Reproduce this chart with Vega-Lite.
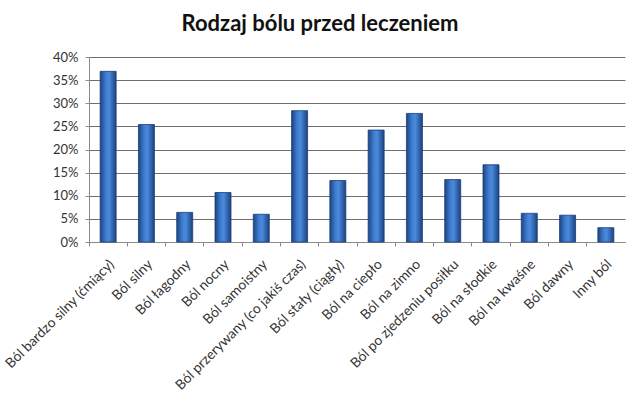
{
  "$schema": "https://vega.github.io/schema/vega-lite/v6.json",
  "width": 536,
  "height": 185,
  "autosize": {"type": "none"},
  "padding": {"left": 89, "top": 57, "right": 15, "bottom": 154},
  "background": "white",
  "config": {
    "font": "Lato",
    "view": {"strokeWidth": 0},
    "axis": {"labelFont": "Lato", "labelColor": "#333333", "domainColor": "#8a8a8a", "tickColor": "#8a8a8a"}
  },
  "title": {
    "text": "Rodzaj bólu przed leczeniem",
    "fontSize": 22,
    "fontWeight": "bold",
    "color": "#111111",
    "anchor": "middle",
    "dx": -37,
    "offset": 15
  },
  "data": {
    "values": [
      {"kategoria": "Ból bardzo silny (ćmiący)", "procent": 36.9},
      {"kategoria": "Ból silny", "procent": 25.4},
      {"kategoria": "Ból łagodny", "procent": 6.4},
      {"kategoria": "Ból nocny", "procent": 10.7},
      {"kategoria": "Ból samoistny", "procent": 6.0},
      {"kategoria": "Ból przerywany (co jakiś czas)", "procent": 28.4},
      {"kategoria": "Ból stały (ciągły)", "procent": 13.3},
      {"kategoria": "Ból na ciepło", "procent": 24.2},
      {"kategoria": "Ból na zimno", "procent": 27.8},
      {"kategoria": "Ból po zjedzeniu posiłku", "procent": 13.5},
      {"kategoria": "Ból na słodkie", "procent": 16.7},
      {"kategoria": "Ból na kwaśne", "procent": 6.2},
      {"kategoria": "Ból dawny", "procent": 5.8},
      {"kategoria": "Inny ból", "procent": 3.1}
    ]
  },
  "mark": {
    "type": "bar",
    "size": 16,
    "stroke": "#1a3f78",
    "strokeWidth": 0.8,
    "color": {
      "gradient": "linear",
      "x1": 0, "y1": 0, "x2": 1, "y2": 0,
      "stops": [
        {"offset": 0, "color": "#1d4482"},
        {"offset": 0.35, "color": "#3f7cd0"},
        {"offset": 0.55, "color": "#4a8ade"},
        {"offset": 1, "color": "#1c427f"}
      ]
    }
  },
  "encoding": {
    "x": {
      "field": "kategoria",
      "type": "nominal",
      "sort": null,
      "scale": {"paddingInner": 0, "paddingOuter": 0},
      "axis": {"title": null, "labelAngle": -45, "ticks": true, "tickSize": 4, "bandPosition": 0, "labelOffset": -1, "domain": true, "labelPadding": 11, "labelFontSize": 13.8, "labelOverlap": false}
    },
    "y": {
      "field": "procent",
      "type": "quantitative",
      "scale": {"domain": [0, 40]},
      "axis": {
        "title": null,
        "values": [0, 5, 10, 15, 20, 25, 30, 35, 40],
        "labelExpr": "datum.value + '%'",
        "labelOverlap": false,
        "labelFontSize": 13,
        "grid": true,
        "gridColor": "#6e6e6e",
        "gridWidth": 1.2,
        "gridOpacity": 1,
        "tickSize": 4,
        "labelPadding": 7,
        "domain": true
      }
    }
  }
}
